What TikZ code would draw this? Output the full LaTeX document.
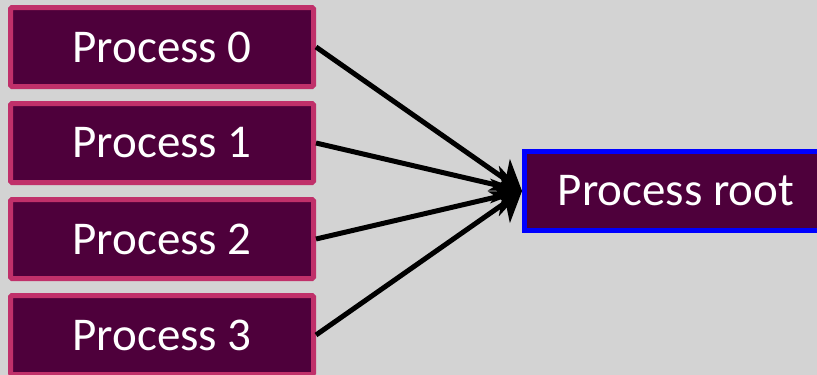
\documentclass[tikz,border=0pt]{standalone}
\usepackage{fontspec}
\setmainfont{Carlito}
\usetikzlibrary{arrows.meta,positioning}
\definecolor{canvas}{HTML}{D3D3D3}
\definecolor{plum}{HTML}{4E003B}
\definecolor{rosered}{HTML}{C0306A}
\definecolor{rootblue}{HTML}{0000FF}

\tikzset{
    proc/.style={
        fill=plum,
        draw=rosered,
        line width=5pt,
        rounded corners=1.5pt,
        minimum width=303pt,
        minimum height=79pt,
        inner sep=0pt,
        text=white,
        font=\fontsize{47}{56}\selectfont
    },
    rootbox/.style={
        proc,
        draw=rootblue,
        rounded corners=0pt
    },
    sendarrow/.style={
        draw=black,
        line width=5pt,
        arrows={-Stealth[length=28pt,width=38pt,inset=8pt]}
    }
}

\begin{document}
\begin{tikzpicture}[x=1pt,y=-1pt]
    % canvas
    \useasboundingbox (0,0) rectangle (817,375);
    \clip (0,0) rectangle (817,375);
    \fill[canvas] (0,0) rectangle (817,375);

    % senders
    \node[proc] (p0) at (162,47) {Process 0};
    \node[proc, below=12pt of p0] (p1) {Process 1};
    \node[proc, below=12pt of p1] (p2) {Process 2};
    \node[proc, below=12pt of p2] (p3) {Process 3};

    % receiver
    \node[rootbox, anchor=west] (root) at (522,191) {Process root};

    % arrows into the root
    \foreach \src in {p0,p1,p2,p3}
        \draw[sendarrow] (\src.east) -- (root.west);
\end{tikzpicture}
\end{document}
